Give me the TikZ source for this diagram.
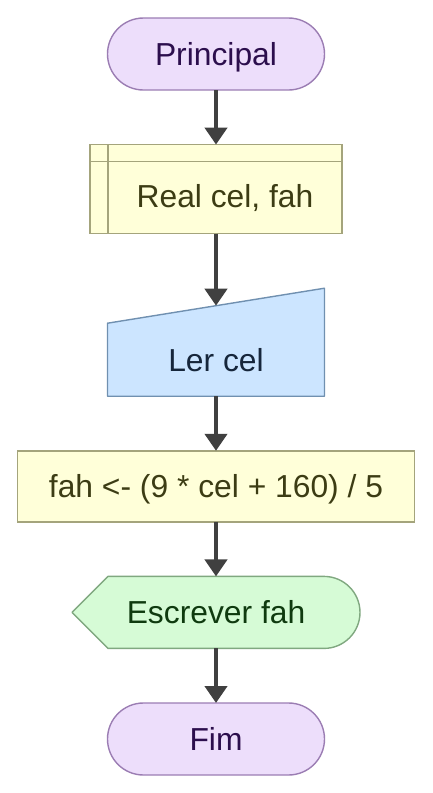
\documentclass[tikz,border=0pt]{standalone}
\usepackage{fontspec}
\setmainfont{Liberation Sans}
\usepackage{tikz}
\usetikzlibrary{positioning,arrows.meta}

\definecolor{termfill}{HTML}{EDDEFB}
\definecolor{termdraw}{HTML}{9B7DB3}
\definecolor{termtext}{HTML}{2C0E4D}
\definecolor{declfill}{HTML}{FFFFD9}
\definecolor{decldraw}{HTML}{A4A47C}
\definecolor{decltext}{HTML}{3C3C14}
\definecolor{infill}{HTML}{CCE5FF}
\definecolor{indraw}{HTML}{7090B0}
\definecolor{intext}{HTML}{16263B}
\definecolor{outfill}{HTML}{D6FBD6}
\definecolor{outdraw}{HTML}{80A880}
\definecolor{outtext}{HTML}{0F3A0F}
\definecolor{arrowgray}{HTML}{404040}

\begin{document}
\begin{tikzpicture}[
  x=1pt, y=1pt,
  node distance=54.6pt,
  base/.style={
    outer sep=0pt,
    inner sep=0pt,
    align=center,
    text height=22pt,
    text depth=0pt,
    font=\fontsize{31.8}{38}\selectfont
  },
  terminal/.style={
    base,
    draw=termdraw,
    fill=termfill,
    text=termtext,
    line width=1.4pt,
    rounded corners=36pt,
    minimum width=217pt,
    minimum height=72pt
  },
  declbox/.style={
    base,
    draw=decldraw,
    fill=declfill,
    text=decltext,
    line width=1.4pt,
    minimum width=252pt,
    minimum height=89pt,
    text height=43pt,
    text depth=6pt
  },
  inbox/.style={
    base,
    text=intext,
    minimum width=217pt,
    minimum height=108pt,
    text height=64pt,
    text depth=6pt
  },
  procbox/.style={
    base,
    draw=decldraw,
    fill=declfill,
    text=decltext,
    line width=1.4pt,
    minimum width=397pt,
    minimum height=71pt
  },
  outbox/.style={
    base,
    text=outtext,
    minimum width=288pt,
    minimum height=72pt
  },
  edge/.style={
    -{Triangle[width=22pt,length=17pt]},
    draw=arrowgray,
    line width=4.7pt
  }
]
\useasboundingbox (0,0) rectangle (433,-793);

\node[terminal] (start) at (216,-54) {Principal};
\node[declbox, below=of start] (decl) {\hspace*{18pt}Real cel, fah};
\node[inbox, below=of decl] (read) {};
\node[procbox, below=of read] (calc) {fah <- (9 * cel + 160) / 5};
\node[outbox, below=of calc] (write) {};
\node[terminal, below=of write] (stop) {Fim};

\draw[decldraw, line width=1.4pt]
  ([xshift=18pt]decl.north west) -- ([xshift=18pt]decl.south west)
  ([yshift=-17pt]decl.north west) -- ([yshift=-17pt]decl.north east);

\filldraw[draw=indraw, fill=infill, line width=1.4pt, line join=round]
  (read.south west) -- (read.south east) -- (read.north east)
  -- ([yshift=-35pt]read.north west) -- cycle;
\node[inbox] at (read) {Ler cel};

\filldraw[draw=outdraw, fill=outfill, line width=1.4pt, line join=round]
  (write.west) -- ([xshift=36pt]write.north west)
  -- ([xshift=-36pt]write.north east) arc[start angle=90, end angle=-90, radius=36pt]
  -- ([xshift=36pt]write.south west) -- cycle;
\node[outbox] at (write) {Escrever fah};

\coordinate (readtop) at ([yshift=-17.5pt]read.north);

\draw[edge] (start) -- (decl);
\draw[edge] (decl) -- (readtop);
\draw[edge] (read) -- (calc);
\draw[edge] (calc) -- (write);
\draw[edge] (write) -- (stop);
\end{tikzpicture}
\end{document}
